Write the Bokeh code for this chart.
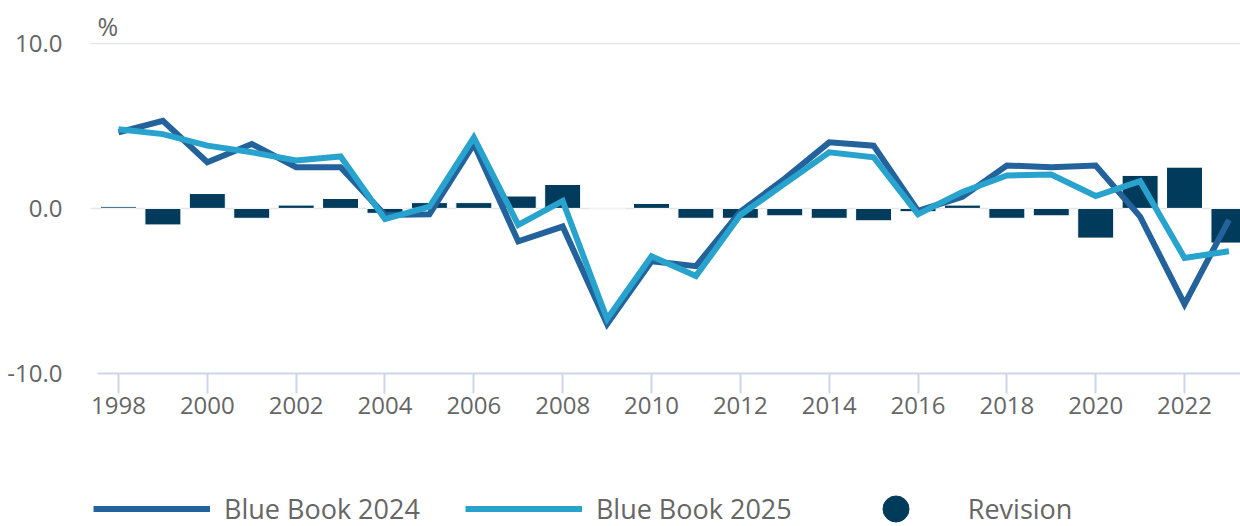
from bokeh.plotting import figure
from bokeh.models import Range1d, FixedTicker, PrintfTickFormatter, ColumnDataSource, Legend, LegendItem
from bokeh.embed import file_html
from bokeh.resources import INLINE

years = list(range(1998, 2024))
bb2024 = [4.6, 5.3, 2.8, 3.9, 2.5, 2.5, -0.4, -0.35, 3.9, -2.0, -1.1, -7.0, -3.2, -3.5,
          -0.2, 1.8, 4.0, 3.8, -0.15, 0.7, 2.6, 2.5, 2.6, -0.5, -5.8, -0.7]
bb2025 = [4.8, 4.5, 3.8, 3.4, 2.9, 3.15, -0.65, 0.1, 4.3, -1.0, 0.45, -6.7, -2.9, -4.1,
          -0.4, 1.5, 3.4, 3.1, -0.35, 1.0, 2.0, 2.05, 0.75, 1.65, -3.0, -2.6]
revision = [0.1, -1.0, 0.9, -0.6, 0.2, 0.6, -0.3, 0.35, 0.35, 0.75, 1.45, 0.05, 0.3, -0.6,
            -0.6, -0.45, -0.6, -0.75, -0.2, 0.2, -0.6, -0.45, -1.8, 2.0, 2.5, -2.1]
x_ticks = list(range(1998, 2024, 2))
y_ticks = [-10, 0, 10]
series_names = ["Blue Book 2024", "Blue Book 2025", "Revision"]

C2024 = "#23629a"
C2025 = "#28a3cd"
CREV = "#003b5c"
TXT = "#666666"
FONT = "Open Sans"
Y_MIN = -10
X_AXIS_START = 1997.527
X_END = 2023.26

src = ColumnDataSource(dict(year=years, bb2024=bb2024, bb2025=bb2025, rev=revision))

# frame runs to the bottom of the canvas so that the legend below the axis is not clipped
p = figure(width=1240, height=526, output_backend="svg", toolbar_location=None,
           x_range=Range1d(1997.37, X_END), y_range=Range1d(-19.27, 10.05),
           min_border_left=90, min_border_right=0, min_border_top=42, min_border_bottom=0)
p.outline_line_color = None
p.background_fill_color = "white"
p.border_fill_color = "white"

p.vbar(x="year", top="rev", bottom=0, width=0.81, source=src,
       fill_color=CREV, line_color="white", line_width=1)
r24 = p.line("year", "bb2024", source=src, line_color=C2024, line_width=6, line_join="miter")
r25 = p.line("year", "bb2025", source=src, line_color=C2025, line_width=6, line_join="miter")
# legend-only marker renderer (hidden in the plot)
rrev = p.scatter("year", "rev", source=src, size=26, marker="circle",
                 fill_color=CREV, line_color=CREV, visible=False)

# axes
p.xaxis.fixed_location = Y_MIN
p.xaxis.bounds = (X_AXIS_START, X_END)
p.xaxis.ticker = FixedTicker(ticks=x_ticks)
p.xaxis.axis_line_color = "#ccd6eb"
p.xaxis.axis_line_width = 2
p.xaxis.major_tick_line_color = "#ccd6eb"
p.xaxis.major_tick_line_width = 2
p.xaxis.major_tick_out = 20
p.xaxis.major_tick_in = 0
p.xaxis.minor_tick_line_color = None
p.xaxis.major_label_standoff = 4
p.xaxis.major_label_text_font = FONT
p.xaxis.major_label_text_font_size = "24px"
p.xaxis.major_label_text_color = TXT

p.yaxis.ticker = FixedTicker(ticks=y_ticks)
p.yaxis.formatter = PrintfTickFormatter(format="%.1f")
p.yaxis.axis_line_color = None
p.yaxis.major_tick_line_color = None
p.yaxis.minor_tick_line_color = None
p.yaxis.major_tick_out = 0
p.yaxis.major_tick_in = 0
p.yaxis.major_label_standoff = 28
p.yaxis.major_label_text_font = FONT
p.yaxis.major_label_text_font_size = "24px"
p.yaxis.major_label_text_color = TXT

p.xgrid.grid_line_color = None
p.ygrid.ticker = FixedTicker(ticks=[0, 10])
p.ygrid.grid_line_color = "#e6e6e6"
p.ygrid.grid_line_width = 1.5

p.title.text = "%"
p.title.align = "left"
p.title.text_font = FONT
p.title.text_font_size = "25px"
p.title.text_font_style = "normal"
p.title.text_color = TXT
p.title.standoff = 0
p.title.offset = 7

legend = Legend(items=[LegendItem(label=series_names[0], renderers=[r24]),
                       LegendItem(label=series_names[1], renderers=[r25]),
                       LegendItem(label=series_names[2], renderers=[rrev])],
                orientation="horizontal", location=(3, -15),
                glyph_width=117, glyph_height=65, label_standoff=14, spacing=45,
                padding=0, margin=0, border_line_color=None, background_fill_alpha=0,
                label_text_font=FONT, label_text_font_size="27px", label_text_color=TXT,
                label_height=30, inactive_fill_alpha=0)
p.add_layout(legend, "center")

open("out.html", "w").write(file_html(p, INLINE))
